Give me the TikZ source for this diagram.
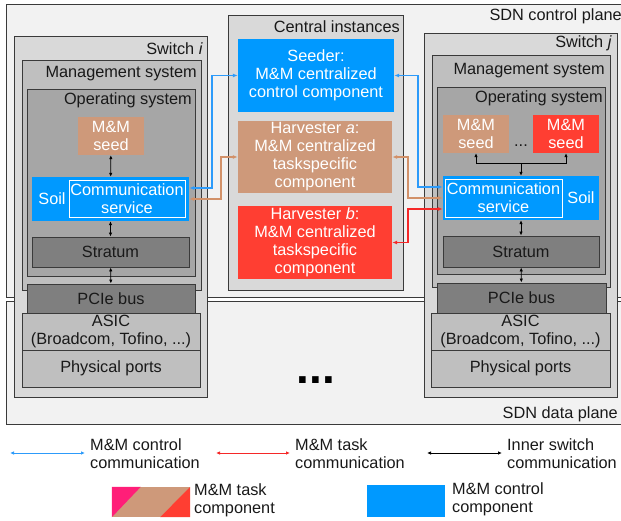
\documentclass[tikz,border=0pt]{standalone}
\usepackage{fontspec}
\setmainfont{Liberation Sans}
\usetikzlibrary{arrows.meta}

\definecolor{piano}{HTML}{F2F2F2}
\definecolor{grigioA}{HTML}{D9D9D9}
\definecolor{grigioB}{HTML}{BFBFBF}
\definecolor{grigioC}{HTML}{A6A6A6}
\definecolor{grigioD}{HTML}{7F7F7F}
\definecolor{bordo}{HTML}{3A3A3A}
\definecolor{mmblu}{HTML}{0099FF}
\definecolor{mmtan}{RGB}{206,153,122}
\definecolor{mmrosso}{RGB}{255,62,50}
\definecolor{mmrosa}{RGB}{255,30,120}
\definecolor{linblu}{RGB}{45,155,250}
\definecolor{lintan}{RGB}{210,145,105}
\definecolor{linrosso}{RGB}{245,40,40}

\begin{document}
\begin{tikzpicture}[x=1pt, y=-1pt, >={Latex[length=5pt,width=4pt]},
  font=\fontsize{16.3}{18}\selectfont,
  cont/.style={draw=bordo, line width=0.9pt},
  blocco/.style={draw=bordo, line width=0.9pt, inner sep=0pt, align=center, text=black!90},
  comp/.style={inner sep=0pt, align=center, text=white},
  etich/.style={anchor=east, inner sep=0pt, text=black!90},
  testo/.style={anchor=west, inner sep=0pt, align=left, text=black!90},
  ctrlcom/.style={<->, draw=linblu, line width=1.3pt},
  taskcom/.style={<->, draw=lintan, line width=1.3pt},
  taskcomb/.style={<->, draw=linrosso, line width=1.3pt},
  interno/.style={>={Latex[length=4pt,width=3.5pt]}, draw=black, line width=0.8pt}]

\useasboundingbox (0,0) rectangle (621,521);
\clip (0,0) rectangle (621,521);

% piani SDN
\draw[cont, fill=piano] (6,4) rectangle (630,297);
\draw[cont, fill=piano] (6,301) rectangle (630,424);
\node[etich] (cpLbl) at (622,16) {SDN control plane};
\node[etich] (dpLbl) at (618,414) {SDN data plane};
\node[inner sep=0pt] (puntini) at (316,380) {\fontsize{46}{46}\selectfont\bfseries ...};

% istanze centrali
\draw[cont, fill=grigioA] (228,15) rectangle (403,290);
\node[etich] (ciLbl) at (400,27) {Central instances};
\node[comp, fill=mmblu, minimum width=156pt, minimum height=73pt] (seeder) at (316,75.5) {Seeder:\\M\&M centralized\\control component};
\node[comp, fill=mmtan, minimum width=154pt, minimum height=72pt] (harvA) at (315,157) {Harvester \textit{a}:\\M\&M centralized\\taskspecific\\component};
\node[comp, fill=mmrosso, minimum width=154pt, minimum height=73pt] (harvB) at (315,242.5) {Harvester \textit{b}:\\M\&M centralized\\taskspecific\\component};

% switch i
\draw[cont, fill=grigioA] (14,36) rectangle (207,397);
\node[etich] (swiLbl) at (203,48.5) {Switch \textit{i}};
\draw[cont, fill=grigioB] (22,60) rectangle (201,290);
\node[etich] (msiLbl) at (197,73.5) {Management system};
\draw[cont, fill=grigioC] (27,89) rectangle (195,276);
\node[etich] (osiLbl) at (192,100.5) {Operating system};
\node[comp, fill=mmtan, minimum width=66pt, minimum height=38pt] (seedI) at (111,136) {M\&M\\seed};
\node[comp, fill=mmblu, minimum width=157pt, minimum height=44pt] (soilI) at (110.5,199) {};
\node[comp] (soilIlbl) at (52,198.5) {Soil};
\node[comp, fill=mmblu, draw=white, line width=0.8pt, minimum width=116pt, minimum height=37pt] (commI) at (127,198.5) {Communication\\service};
\node[blocco, fill=grigioD, minimum width=157pt, minimum height=30pt] (stratumI) at (110.5,252) {Stratum};
\node[blocco, fill=grigioD, minimum width=168pt, minimum height=29pt] (pcieI) at (111,298.5) {PCIe bus};
\node[blocco, fill=grigioB, minimum width=178pt, minimum height=37pt] (asicI) at (111,331.5) {ASIC\\(Broadcom, Tofino, ...)};
\node[blocco, fill=grigioB, minimum width=178pt, minimum height=37pt] (physI) at (111,368.5) {Physical ports};

% switch j
\draw[cont, fill=grigioA] (424,33) rectangle (617,397);
\node[etich] (swjLbl) at (612,43.5) {Switch \textit{j}};
\draw[cont, fill=grigioB] (432,55) rectangle (610,287);
\node[etich] (msjLbl) at (605,70.5) {Management system};
\draw[cont, fill=grigioC] (437,87) rectangle (605,274);
\node[etich] (osjLbl) at (603,98) {Operating system};
\node[comp, fill=mmtan, minimum width=66pt, minimum height=38pt] (seedJa) at (476,134) {M\&M\\seed};
\node[comp, fill=mmrosso, minimum width=66pt, minimum height=38pt] (seedJb) at (566,134) {M\&M\\seed};
\node[inner sep=0pt, text=black!90] (seedDots) at (521,146) {...};
\node[comp, fill=mmblu, minimum width=156pt, minimum height=44pt] (soilJ) at (521,198) {};
\node[comp] (soilJlbl) at (581,198) {Soil};
\node[comp, fill=mmblu, draw=white, line width=0.8pt, minimum width=117pt, minimum height=38pt] (commJ) at (503.5,198) {Communication\\service};
\node[blocco, fill=grigioD, minimum width=156pt, minimum height=31pt] (stratumJ) at (521,251.5) {Stratum};
\node[blocco, fill=grigioD, minimum width=169pt, minimum height=30pt] (pcieJ) at (521.5,298) {PCIe bus};
\node[blocco, fill=grigioB, minimum width=179pt, minimum height=37pt] (asicJ) at (520.5,331.5) {ASIC\\(Broadcom, Tofino, ...)};
\node[blocco, fill=grigioB, minimum width=179pt, minimum height=37pt] (physJ) at (520.5,368.5) {Physical ports};

% comunicazione interna
\draw[interno, <->] (seedI) -- (soilI);
\draw[interno, <->] (soilI) -- (stratumI);
\draw[interno, <->] (stratumI) -- (pcieI);
\draw[interno, <->] (seedJa.south) |- ([yshift=12pt]soilJ.north) -| (seedJb.south);
\draw[interno, ->] ([yshift=12pt]soilJ.north) -- (soilJ.north);
\draw[interno, <->] (soilJ) -- (stratumJ);
\draw[interno, <->] (stratumJ) -- (pcieJ);

% comunicazione M&M (gomiti)
\coordinate (gB1) at (212,188);
\coordinate (gB2) at (212,75.5);
\coordinate (gT1) at (221,199);
\coordinate (gT2) at (221,157);
\coordinate (gB3) at (418,75.5);
\coordinate (gB4) at (418,187);
\coordinate (gT3) at (408,157);
\coordinate (gT4) at (408,198);
\coordinate (gR1) at (408,242.5);
\coordinate (gR2) at (408,209);

\draw[ctrlcom] (soilI.east |- gB1) -- (gB1) -- (gB2) -- (seeder.west);
\draw[taskcom] (soilI.east) -- (gT1) -- (gT2) -- (harvA.west);
\draw[ctrlcom] (seeder.east) -- (gB3) -- (gB4) -- (soilJ.west |- gB4);
\draw[taskcom] (harvA.east) -- (gT3) -- (gT4) -- (soilJ.west);
\draw[taskcomb] (harvB.east) -- (gR1) -- (gR2) -- (soilJ.west |- gR2);

% legenda
\coordinate (lgCa) at (10,453);
\coordinate (lgCb) at (85,453);
\coordinate (lgTa) at (216,453);
\coordinate (lgTb) at (290,453);
\coordinate (lgIa) at (427,453);
\coordinate (lgIb) at (502,453);
\draw[ctrlcom, line width=0.8pt, >={Latex[length=4pt,width=3.5pt]}] (lgCa) -- (lgCb);
\draw[taskcomb, line width=0.8pt, >={Latex[length=4pt,width=3.5pt]}] (lgTa) -- (lgTb);
\draw[interno, <->] (lgIa) -- (lgIb);
\node[testo] (lgCtxt) at (90,454) {M\&M control\\communication};
\node[testo] (lgTtxt) at (295,454) {M\&M task\\communication};
\node[testo] (lgItxt) at (507,454) {Inner switch\\communication};

\node[fill=mmtan, minimum width=78pt, minimum height=30pt, inner sep=0pt] (lgTask) at (151,502) {};
\fill[mmrosa] (lgTask.north west) -- ([xshift=29pt]lgTask.north west) -- (lgTask.south west) -- cycle;
\fill[mmrosso] (lgTask.north east) -- (lgTask.south east) -- ([xshift=-30pt]lgTask.south east) -- cycle;
\node[fill=mmblu, minimum width=78pt, minimum height=32pt, inner sep=0pt] (lgCtrl) at (406,500.5) {};
\node[testo] (lgTaskTxt) at (194,500.5) {M\&M task\\component};
\node[testo] (lgCtrlTxt) at (452,499) {M\&M control\\component};

\end{tikzpicture}
\end{document}
